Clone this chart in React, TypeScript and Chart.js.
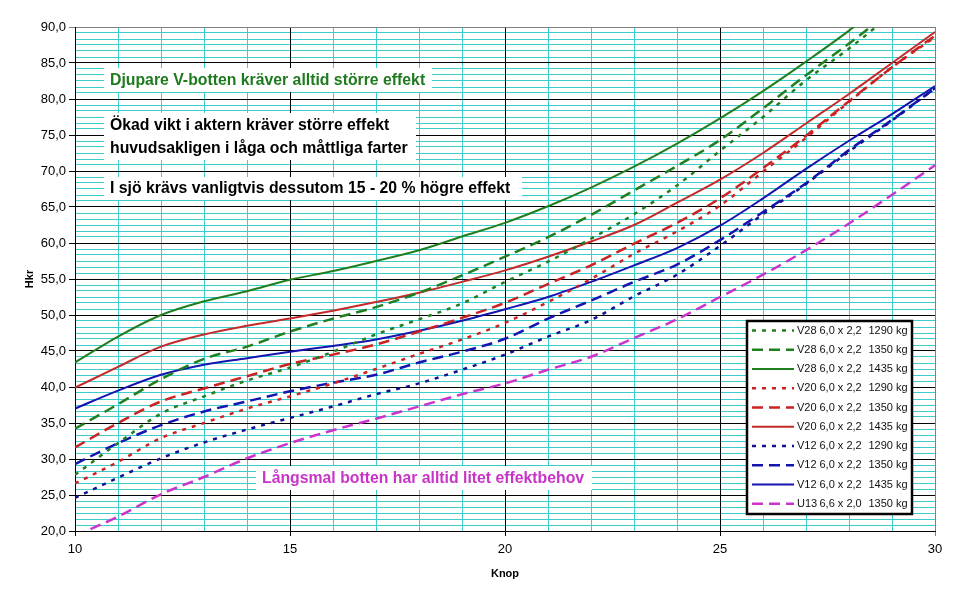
import React, { useEffect, useRef } from 'react';
import { Chart, registerables } from 'chart.js';

Chart.register(...registerables);

// ---------- data ----------
const knots = [10, 11, 12, 13, 14, 15, 16, 17, 18, 19, 20, 21, 22, 23, 24, 25, 26, 27, 28, 29, 30];

const v28_1290 = [27.8, 32.2, 36.3, 38.7, 40.9, 42.7, 44.9, 47.3, 49.4, 51.6, 54.6, 57.4, 60.6, 64.0, 68.0, 72.8, 77.5, 82.6, 87.0, 91.8, 96.5];
const v28_1350 = [34.2, 37.6, 41.1, 43.9, 45.6, 47.7, 49.5, 51.1, 53.1, 55.5, 58.1, 60.8, 63.9, 67.3, 70.7, 74.3, 78.7, 83.3, 87.7, 92.3, 97.0];
const v28_1435 = [43.4, 47.0, 50.0, 51.9, 53.3, 54.9, 56.1, 57.5, 59.0, 60.9, 62.8, 65.1, 67.7, 70.6, 73.8, 77.3, 81.1, 85.2, 89.5, 94.3, 99.5];
const v20_1290 = [26.6, 29.6, 32.9, 35.0, 37.0, 38.7, 40.5, 42.5, 44.6, 46.6, 48.9, 51.8, 55.0, 58.5, 61.6, 65.2, 69.9, 74.6, 79.6, 84.4, 88.6];
const v20_1350 = [31.6, 35.0, 38.0, 39.8, 41.5, 43.2, 44.5, 45.9, 47.7, 49.6, 51.7, 54.3, 56.9, 59.9, 62.8, 66.2, 70.4, 74.9, 79.7, 84.4, 88.8];
const v20_1435 = [39.9, 42.8, 45.6, 47.3, 48.5, 49.5, 50.6, 51.8, 53.1, 54.6, 56.2, 58.1, 60.2, 62.5, 65.6, 68.8, 72.5, 76.6, 80.7, 85.0, 89.3];
const v12_1290 = [24.6, 27.4, 30.1, 32.3, 34.1, 35.7, 37.3, 39.0, 40.5, 42.4, 44.5, 47.0, 49.3, 52.6, 55.6, 59.6, 64.0, 68.2, 72.7, 77.0, 81.5];
const v12_1350 = [29.3, 32.2, 34.7, 36.6, 38.0, 39.4, 40.6, 41.7, 43.4, 44.9, 46.7, 49.5, 52.0, 54.6, 57.0, 60.4, 64.3, 68.3, 72.9, 77.1, 81.5];
const v12_1435 = [37.0, 39.5, 41.7, 43.1, 44.0, 44.9, 45.7, 46.6, 47.8, 49.2, 50.8, 52.5, 54.6, 56.9, 59.3, 62.4, 66.2, 70.3, 74.2, 77.9, 81.8];
const u13_1350 = [19.3, 22.0, 25.1, 27.5, 30.1, 32.2, 34.0, 35.6, 37.3, 39.0, 40.5, 42.4, 44.2, 46.8, 49.4, 52.5, 55.6, 59.0, 62.7, 66.7, 70.8];

const seriesLabels = [
  'V28  6,0 x 2,2  1290 kg',
  'V28  6,0 x 2,2  1350 kg',
  'V28  6,0 x 2,2  1435 kg',
  'V20  6,0 x 2,2  1290 kg',
  'V20  6,0 x 2,2  1350 kg',
  'V20  6,0 x 2,2  1435 kg',
  'V12  6,0 x 2,2  1290 kg',
  'V12  6,0 x 2,2  1350 kg',
  'V12  6,0 x 2,2  1435 kg',
  'U13  6,6 x 2,0  1350 kg',
];
const seriesValues = [v28_1290, v28_1350, v28_1435, v20_1290, v20_1350, v20_1435, v12_1290, v12_1350, v12_1435, u13_1350];

const xTitle = 'Knop';
const yTitle = 'Hkr';
const noteDeep = 'Djupare V-botten kräver alltid större effekt';
const noteWeight1 = 'Ökad vikt i aktern kräver större effekt';
const noteWeight2 = 'huvudsakligen i låga och måttliga farter';
const noteSea = 'I sjö krävs vanligtvis dessutom 15 - 20 % högre effekt';
const noteSlim = 'Långsmal botten har alltid litet effektbehov';

// ---------- styles ----------
const GREEN = '#1f7f1f';
const RED = '#cc2222';
const BLUE = '#1414b0';
const MAGENTA = '#cc33cc';
const CYAN = '#3ccccc';
const FONT = 'Arial, "Liberation Sans", Helvetica, sans-serif';

const DOT = [4, 6];
const DASH = [11, 6];
const styles = [
  { color: GREEN, dash: DOT, width: 2.5 },
  { color: GREEN, dash: DASH, width: 2.5 },
  { color: GREEN, dash: [], width: 2 },
  { color: RED, dash: DOT, width: 2.5 },
  { color: RED, dash: DASH, width: 2.5 },
  { color: '#c42a2a', dash: [], width: 2 },
  { color: '#101090', dash: DOT, width: 2.5 },
  { color: BLUE, dash: DASH, width: 2.5 },
  { color: BLUE, dash: [], width: 2 },
  { color: MAGENTA, dash: DASH, width: 2.5 },
];

const X_MIN = 10, X_MAX = 30, Y_MIN = 20, Y_MAX = 90;
const xMinorTicks: number[] = [];
for (let v = X_MIN; v <= X_MAX + 1e-9; v += 1) xMinorTicks.push(v);
const yMinorTicks: number[] = [];
for (let i = 0; i <= 84; i++) yMinorTicks.push(Y_MIN + (i * 5) / 6);

const notesPlugin = {
  id: 'notes',
  afterDatasetsDraw(chart: any) {
    const ctx = chart.ctx;
    ctx.save();
    const boxes = [
      { x: 104, y: 68, w: 328, h: 24, lines: [noteDeep], color: '#1e7a1e' },
      { x: 104, y: 113, w: 312, h: 47, lines: [noteWeight1, noteWeight2], color: '#000' },
      { x: 104, y: 177, w: 418, h: 23, lines: [noteSea], color: '#000' },
      { x: 256, y: 466, w: 336, h: 24, lines: [noteSlim], color: '#c833c8' },
    ];
    ctx.font = `bold 15.8px ${FONT}`;
    ctx.textBaseline = 'middle';
    ctx.textAlign = 'left';
    for (const b of boxes) {
      ctx.fillStyle = '#ffffff';
      ctx.fillRect(b.x, b.y, b.w, b.h);
      ctx.fillStyle = b.color;
      const n = b.lines.length;
      b.lines.forEach((t: string, i: number) => {
        const cy = b.y + (b.h * (i + 0.5)) / n + 0.5;
        ctx.fillText(t, b.x + 6, cy);
      });
    }
    ctx.restore();
  },
};

const legendPlugin = {
  id: 'boxLegend',
  afterDraw(chart: any) {
    const { ctx, chartArea } = chart;
    const w = 165, rowH = 19.26;
    const right = chartArea.right - 23;
    const bottom = chartArea.bottom - 17;
    const h = 193;
    const left = right - w, top = bottom - h;
    ctx.save();
    ctx.fillStyle = '#fff';
    ctx.fillRect(left, top, w, h);
    ctx.strokeStyle = '#000';
    ctx.lineWidth = 2.5;
    ctx.strokeRect(left, top, w, h);
    ctx.font = `11px ${FONT}`;
    ctx.textBaseline = 'middle';
    ctx.textAlign = 'left';
    chart.data.datasets.forEach((ds: any, i: number) => {
      const cy = top + 9.5 + i * rowH;
      ctx.save();
      ctx.strokeStyle = ds.borderColor;
      ctx.lineWidth = ds.borderWidth;
      ctx.setLineDash(ds.borderDash || []);
      ctx.beginPath();
      ctx.moveTo(left + 5, cy);
      ctx.lineTo(left + 47, cy);
      ctx.stroke();
      ctx.restore();
      const parts = String(ds.label).split('  ');
      ctx.fillStyle = '#111';
      ctx.fillText(parts[0], left + 50, cy);
      ctx.fillText(parts[1], left + 72.5, cy);
      ctx.fillText(parts[2], left + 121.5, cy);
    });
    ctx.restore();
  },
};

export default function App() {
  const canvasRef = useRef<HTMLCanvasElement | null>(null);

  useEffect(() => {
    document.body.style.margin = '0';
    const canvas = canvasRef.current;
    if (!canvas) return;
    const datasets = seriesValues.map((vals, i) => ({
      label: seriesLabels[i],
      data: knots.map((k, j) => ({ x: k, y: vals[j] })),
      borderColor: styles[i].color,
      backgroundColor: styles[i].color,
      borderWidth: styles[i].width,
      borderDash: styles[i].dash,
      pointRadius: 0,
      pointHoverRadius: 0,
      fill: false,
      cubicInterpolationMode: 'monotone' as const,
      clip: 0,
      xAxisID: 'x',
      yAxisID: 'y',
    }));

    const chart = new Chart(canvas, {
      type: 'line',
      data: { datasets },
      plugins: [notesPlugin, legendPlugin],
      options: {
        animation: false,
        responsive: false,
        maintainAspectRatio: false,
        events: [],
        layout: { padding: { left: 0, right: 35, top: 27, bottom: 0 } },
        plugins: {
          legend: { display: false },
          tooltip: { enabled: false },
          title: { display: false },
        },
        scales: {
          xMinor: {
            type: 'linear',
            position: 'bottom',
            min: X_MIN,
            max: X_MAX,
            ticks: { display: false },
            grid: { color: CYAN, lineWidth: 1, drawTicks: false, z: -2 },
            border: { display: false },
            afterBuildTicks: (s: any) => { s.ticks = xMinorTicks.map((v) => ({ value: v })); },
            afterFit: (s: any) => { s.height = 0; },
          },
          yMinor: {
            type: 'linear',
            position: 'left',
            min: Y_MIN,
            max: Y_MAX,
            ticks: { display: false },
            grid: { color: CYAN, lineWidth: 1, drawTicks: false, z: -2 },
            border: { display: false },
            afterBuildTicks: (s: any) => { s.ticks = yMinorTicks.map((v) => ({ value: v })); },
            afterFit: (s: any) => { s.width = 0; },
          },
          x: {
            type: 'linear',
            position: 'bottom',
            min: X_MIN,
            max: X_MAX,
            ticks: {
              stepSize: 5,
              color: '#000',
              font: { family: FONT, size: 13 },
              padding: 6,
              maxRotation: 0,
              autoSkip: false,
            },
            grid: {
              color: (c: any) => (c.tick && c.tick.value === X_MAX ? '#808080' : '#000'),
              lineWidth: 1,
              tickLength: 5,
              z: -1,
            },
            border: { color: '#000', width: 1 },
            title: {
              display: true,
              text: xTitle,
              color: '#000',
              font: { family: FONT, size: 11, weight: 'bold' },
              padding: { top: 0, bottom: 20 },
            },
            afterFit: (s: any) => { s.height = 70; },
          },
          y: {
            type: 'linear',
            position: 'left',
            min: Y_MIN,
            max: Y_MAX,
            ticks: {
              stepSize: 5,
              color: '#000',
              font: { family: FONT, size: 13 },
              padding: 3,
              callback: (v: any) => Number(v).toFixed(1).replace('.', ','),
            },
            grid: {
              color: (c: any) => (c.tick && c.tick.value === Y_MAX ? '#808080' : '#000'),
              lineWidth: 1,
              tickLength: 6,
              z: -1,
            },
            border: { color: '#000', width: 1 },
            title: {
              display: true,
              text: yTitle,
              color: '#000',
              font: { family: FONT, size: 11, weight: 'bold' },
              padding: { top: 23, bottom: 0 },
            },
            afterFit: (s: any) => { s.width = 75; },
          },
        },
      } as any,
    });
    return () => chart.destroy();
  }, []);

  return (
    <div style={{ position: 'absolute', left: 0, top: 0, width: 970, height: 601, background: '#fff' }}>
      <canvas ref={canvasRef} width={970} height={601} style={{ display: 'block', width: 970, height: 601 }} />
    </div>
  );
}
